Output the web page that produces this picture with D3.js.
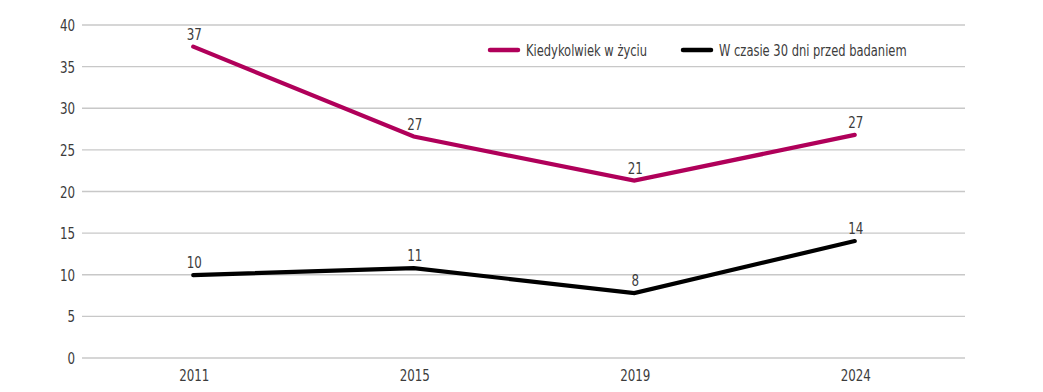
<!DOCTYPE html>
<html><head><meta charset="utf-8">
<script src="https://cdn.jsdelivr.net/npm/d3@7"></script>
<style>
body{margin:0;background:#fff;}
text{font-family:"DejaVu Sans Condensed","Liberation Sans Narrow",sans-serif;fill:#3c3c3c;}
</style></head>
<body>
<svg id="c" width="1043" height="392"></svg>
<script>
const years = ["2011","2015","2019","2024"];
const everValues = [37.4, 26.6, 21.3, 26.8];
const everLabels = ["37","27","21","27"];
const monthValues = [9.95, 10.8, 7.8, 14.05];
const monthLabels = ["10","11","8","14"];
const yTicks = [0,5,10,15,20,25,30,35,40];
const seriesNames = ["Kiedykolwiek w życiu","W czasie 30 dni przed badaniem"];
const seriesColors = ["#b0005a","#000000"];

const svg = d3.select("#c");
const pLeft = 82, pRight = 965, pTop = 25, pBottom = 358;
const SX = 0.8;
const x = d3.scalePoint().domain(years).range([83, 965]).padding(0.5);
const y = d3.scaleLinear().domain([0,40]).range([pBottom, pTop]);
const tr = (px,py) => `translate(${px},${py}) scale(${SX},1)`;

// grid
svg.append("g").selectAll("line").data(yTicks).join("line")
  .attr("x1", pLeft).attr("x2", pRight)
  .attr("y1", d=>y(d)).attr("y2", d=>y(d))
  .attr("stroke", "#c8c8c8").attr("stroke-width", 1.3);

// y labels
svg.append("g").selectAll("text").data(yTicks).join("text")
  .attr("transform", d=>tr(75, y(d)+6))
  .attr("text-anchor","end").attr("font-size",16.5)
  .text(d=>d);

// x labels
svg.append("g").selectAll("text").data(years).join("text")
  .attr("transform", d=>tr(x(d)+1, 381))
  .attr("text-anchor","middle").attr("font-size",16.5)
  .text(d=>d);

const line = d3.line().x(d=>x(d.year)).y(d=>y(d.v));
const series = [
  {vals: everValues, labs: everLabels, color: seriesColors[0]},
  {vals: monthValues, labs: monthLabels, color: seriesColors[1]}
];
series.forEach(s=>{
  const data = years.map((yr,i)=>({year:yr, v:s.vals[i], l:s.labs[i]}));
  svg.append("path").datum(data).attr("d", line)
    .attr("fill","none").attr("stroke", s.color).attr("stroke-width",4.2)
    .attr("stroke-linecap","round").attr("stroke-linejoin","miter");
  svg.append("g").selectAll("text").data(data).join("text")
    .attr("transform", d=>tr(x(d.year)+1, y(d.v)-7))
    .attr("text-anchor","middle").attr("font-size",16.5)
    .text(d=>d.l);
});

// legend
const legX = [490, 683];
seriesNames.forEach((n,i)=>{
  svg.append("line").attr("x1",legX[i]).attr("x2",legX[i]+28)
    .attr("y1",50).attr("y2",50).attr("stroke",seriesColors[i])
    .attr("stroke-width",4.5).attr("stroke-linecap","round");
  svg.append("text").attr("transform", tr(legX[i]+36, 56))
    .attr("font-size",16).text(n);
});
</script>
</body></html>
